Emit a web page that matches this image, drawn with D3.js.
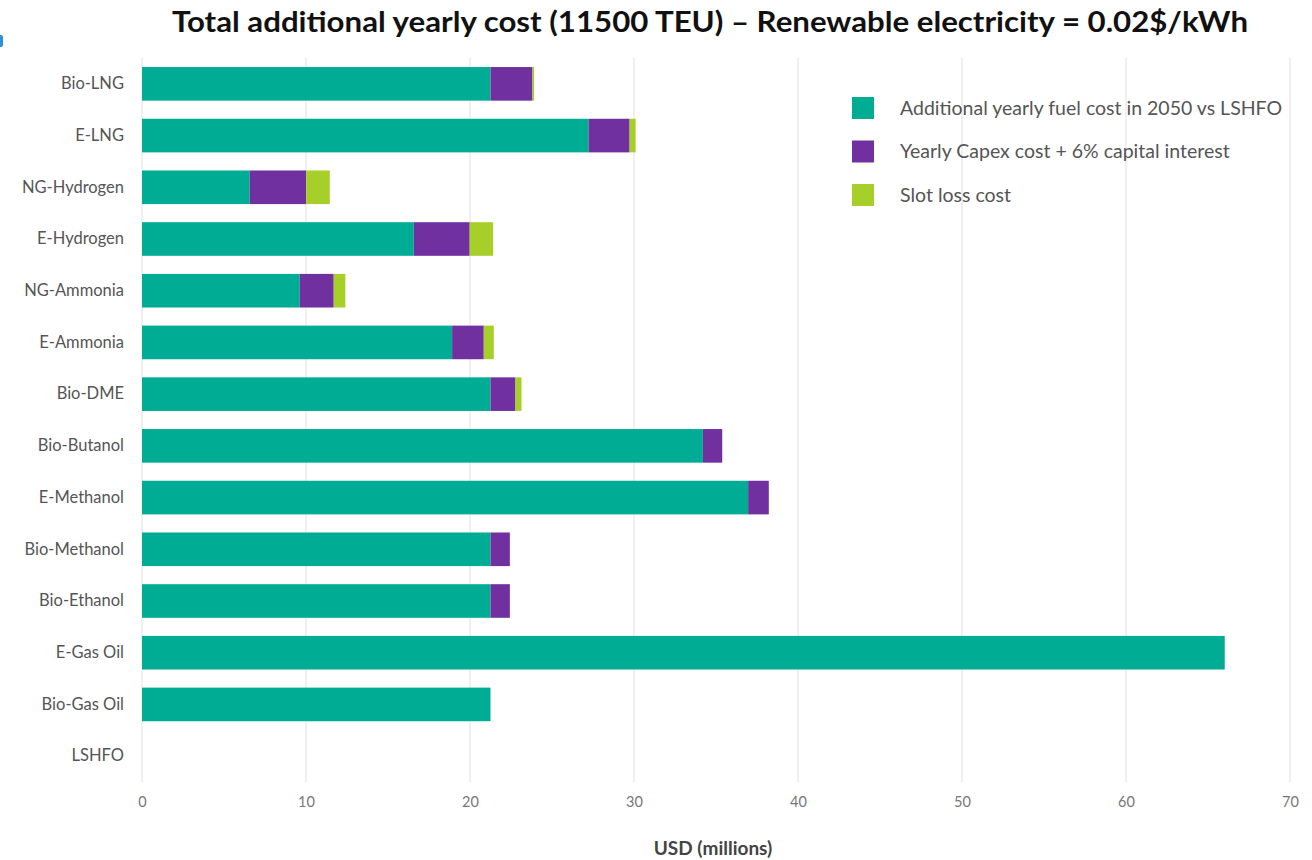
<!DOCTYPE html>
<html>
<head>
<meta charset="utf-8">
<script src="https://cdn.jsdelivr.net/npm/d3@7"></script>
<style>
  html, body { margin: 0; padding: 0; background: #ffffff; }
  svg { display: block; }
</style>
</head>
<body>
<svg id="chart" width="1312" height="860"></svg>
<script>
// Fuel options, top to bottom
const fuels = [
  "Bio-LNG", "E-LNG", "NG-Hydrogen", "E-Hydrogen", "NG-Ammonia", "E-Ammonia",
  "Bio-DME", "Bio-Butanol", "E-Methanol", "Bio-Methanol", "Bio-Ethanol",
  "E-Gas Oil", "Bio-Gas Oil", "LSHFO"
];

// USD millions per year
const fuelCost  = [21.25, 27.23, 6.57, 16.57, 9.62, 18.91, 21.25, 34.2, 36.96, 21.25, 21.25, 66.02, 21.25, 0];
const capexCost = [2.56, 2.5, 3.44, 3.41, 2.07, 1.93, 1.52, 1.18, 1.26, 1.18, 1.18, 0, 0, 0];
const slotCost  = [0.1, 0.37, 1.44, 1.43, 0.71, 0.61, 0.37, 0, 0, 0, 0, 0, 0, 0];

const seriesNames = [
  "Additional yearly fuel cost in 2050 vs LSHFO",
  "Yearly Capex cost + 6% capital interest",
  "Slot loss cost"
];
const seriesKeys = ["fuel", "capex", "slot"];
const seriesColors = ["#00ad94", "#7030a0", "#a6cf2a"];

const xTicks = [0, 10, 20, 30, 40, 50, 60, 70];
const titleText = "Total additional yearly cost (11500 TEU) \u2013 Renewable electricity = 0.02$/kWh";
const xTitle = "USD (millions)";

const rows = fuels.map((name, i) => ({
  name, fuel: fuelCost[i], capex: capexCost[i], slot: slotCost[i]
}));

const svg = d3.select("#chart");
const plotLeft = 142, plotRight = 1290, plotTop = 58, plotBottom = 782;

const x = d3.scaleLinear().domain([0, 70]).range([plotLeft, plotRight]);
const y = d3.scaleBand().domain(fuels).range([plotTop, plotBottom])
  .paddingInner(0.35).paddingOuter(0.175);
const color = d3.scaleOrdinal().domain(seriesKeys).range(seriesColors);

// small blue tab at the left edge
svg.append("rect").attr("x", -3).attr("y", 35).attr("width", 6).attr("height", 12)
  .attr("rx", 2).attr("fill", "#2f8de4");

// title
svg.append("text")
  .attr("x", 710).attr("y", 32)
  .attr("text-anchor", "middle")
  .attr("font-family", "Lato, 'Open Sans', sans-serif")
  .attr("font-weight", 700)
  .attr("font-size", 29)
  .attr("textLength", 1076)
  .attr("lengthAdjust", "spacingAndGlyphs")
  .attr("fill", "#111")
  .text(titleText);

// vertical grid
svg.append("g").selectAll("line").data(xTicks).join("line")
  .attr("x1", d => x(d)).attr("x2", d => x(d))
  .attr("y1", plotTop).attr("y2", plotBottom)
  .attr("stroke", "#e6e6e6").attr("stroke-width", 1.2);

// x axis labels
const xAxis = d3.axisBottom(x).tickValues(xTicks).tickSize(0).tickPadding(0);
const gx = svg.append("g").attr("transform", `translate(0, ${plotBottom + 15})`).call(xAxis);
gx.select(".domain").remove();
gx.selectAll("text")
  .attr("font-family", "Lato, sans-serif").attr("font-size", 14.5)
  .attr("fill", "#777");

// y axis labels
const yAxis = d3.axisLeft(y).tickSize(0).tickPadding(18);
const gy = svg.append("g").attr("transform", `translate(${plotLeft}, 0)`).call(yAxis);
gy.select(".domain").remove();
gy.selectAll("text")
  .attr("font-family", "Lato, sans-serif").attr("font-size", 16.5)
  .attr("fill", "#555");

// stacked bars
const stack = d3.stack().keys(seriesKeys);
const layers = stack(rows);
svg.append("g").selectAll("g").data(layers).join("g")
  .attr("fill", d => color(d.key))
  .selectAll("rect").data(d => d).join("rect")
  .attr("x", d => x(d[0]))
  .attr("y", d => y(d.data.name))
  .attr("width", d => Math.max(0, x(d[1]) - x(d[0])))
  .attr("height", y.bandwidth());

// x axis title
svg.append("text")
  .attr("x", 713).attr("y", 855)
  .attr("text-anchor", "middle")
  .attr("font-family", "Lato, sans-serif").attr("font-weight", 700)
  .attr("font-size", 19).attr("fill", "#444")
  .text(xTitle);

// legend
const legend = svg.append("g").attr("transform", "translate(852, 97)");
const items = legend.selectAll("g").data(seriesKeys).join("g")
  .attr("transform", (d, i) => `translate(0, ${i * 43.5})`);
items.append("rect").attr("width", 22).attr("height", 22)
  .attr("fill", d => color(d));
items.append("text")
  .attr("x", 48).attr("y", 11).attr("dy", "0.35em")
  .attr("font-family", "Lato, sans-serif").attr("font-size", 19.5)
  .attr("fill", "#555")
  .text((d, i) => seriesNames[i]);
</script>
</body>
</html>
